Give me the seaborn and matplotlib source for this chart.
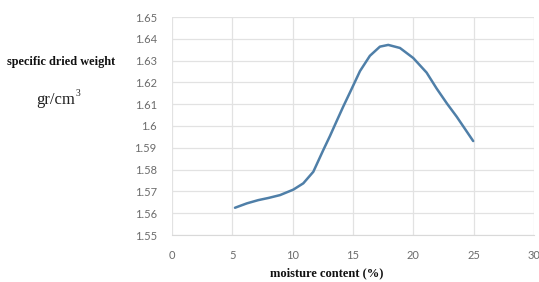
import matplotlib.pyplot as plt
import seaborn as sns
import pandas as pd

# values
moisture = [5.22, 6.2, 7.15, 8.0, 8.95, 10.05, 10.88, 11.71, 12.54, 13.09, 13.6,
            14.19, 14.8, 15.58, 16.4, 17.23, 17.92, 18.89, 19.99, 21.1, 21.93,
            22.8, 23.59, 24.3, 24.96]
dried_weight = [1.5625, 1.5645, 1.566, 1.567, 1.5683, 1.5708, 1.5737, 1.579, 1.589,
                1.5954, 1.6017, 1.6089, 1.616, 1.6252, 1.6322, 1.6364, 1.6372,
                1.6358, 1.6312, 1.6245, 1.6172, 1.6102, 1.6043, 1.5985, 1.5931]

x_ticks = [0, 5, 10, 15, 20, 25, 30]
y_ticks = [1.55, 1.56, 1.57, 1.58, 1.59, 1.6, 1.61, 1.62, 1.63, 1.64, 1.65]
y_tick_labels = ['1.55', '1.56', '1.57', '1.58', '1.59', '1.6', '1.61', '1.62', '1.63', '1.64', '1.65']

LINE_COLOR = '#4f7fa8'
GRID_COLOR = '#e2e2e2'
TICK_COLOR = '#6b6b6b'

df = pd.DataFrame({'moisture': moisture, 'weight': dried_weight})

sns.set_style('white')
plt.rcParams['font.family'] = ['Lato', 'DejaVu Sans']

fig = plt.figure(figsize=(5.39, 2.82), dpi=100)
ax = fig.add_axes([172 / 539, 1 - 235 / 282, 362 / 539, 218 / 282])

line = sns.lineplot(data=df, x='moisture', y='weight', ax=ax, color=LINE_COLOR,
                    linewidth=1.8, sort=False)
line.lines[0].set_solid_joinstyle('round')

ax.set_xlim(0, 30)
ax.set_ylim(1.55, 1.65)
ax.set_xticks(x_ticks)
ax.set_xticklabels([str(t) for t in x_ticks])
ax.set_yticks(y_ticks)
ax.set_yticklabels(y_tick_labels)
ax.grid(True, color=GRID_COLOR, linewidth=0.9)
ax.set_axisbelow(True)
for side in ['top', 'right', 'left']:
    ax.spines[side].set_visible(False)
ax.spines['bottom'].set_color('#d9d9d9')
ax.tick_params(axis='both', length=0, labelsize=8, labelcolor=TICK_COLOR)
ax.tick_params(axis='y', pad=11)
ax.tick_params(axis='x', pad=11)
ax.set_xlabel('')
ax.set_ylabel('')

serif = ['Liberation Serif', 'DejaVu Serif']
fig.text(61 / 539, 1 - 62 / 282, 'specific dried weight', family=serif,
         fontweight='bold', fontsize=8.8, ha='center', va='center', color='#111111')
fig.text(75 / 539, 1 - 100 / 282, 'gr/cm', family=serif,
         fontsize=12, ha='right', va='center', color='#222222')
fig.text(75.5 / 539, 1 - 94 / 282, '3', family=serif,
         fontsize=7, ha='left', va='center', color='#222222')
fig.text(327 / 539, 1 - 273 / 282, 'moisture content (%)', family=serif,
         fontweight='bold', fontsize=9, ha='center', va='center', color='#111111')

fig.savefig('out.png', dpi=100)
